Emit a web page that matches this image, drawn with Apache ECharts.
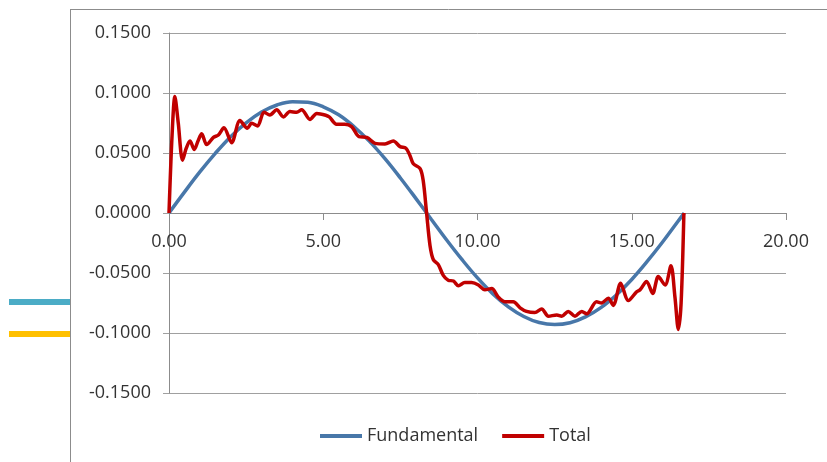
<!DOCTYPE html>
<html>
<head>
<meta charset="utf-8">
<script src="https://cdn.jsdelivr.net/npm/echarts@6/dist/echarts.min.js"></script>
<style>
  html, body { margin: 0; padding: 0; background: #ffffff; }
  #chart { width: 827px; height: 462px; }
</style>
</head>
<body>
<div id="chart"></div>
<script>
// Fundamental component: x positions and values
const fundX = [0, 0.5, 1.0, 1.5, 2.0, 2.5, 3.0, 3.5, 4.0, 4.5, 5.0, 5.5, 6.0, 6.5, 7.0, 7.5, 8.0,
  8.5, 9.0, 9.5, 10.0, 10.5, 11.0, 11.5, 12.0, 12.5, 13.0, 13.5, 14.0, 14.5, 15.0, 15.5, 16.0, 16.5, 16.7];
const fundY = [0, 0.0174, 0.0342, 0.0497, 0.0636, 0.0751, 0.0841, 0.0900, 0.0928, 0.0923, 0.0885, 0.0818,
  0.0719, 0.0597, 0.0453, 0.0292, 0.0122, -0.0052, -0.0225, -0.0389, -0.0541, -0.0674, -0.0782, -0.0862,
  -0.0913, -0.0930, -0.0915, -0.0866, -0.0789, -0.0683, -0.0554, -0.0404, -0.0242, -0.0069, 0];

// Total (sum of harmonics): x positions and values
const totalX = [0, 0.10, 0.19, 0.30, 0.44, 0.56, 0.68, 0.82, 0.94, 1.06, 1.22, 1.44, 1.60, 1.78, 2.03,
  2.30, 2.54, 2.68, 2.87, 3.08, 3.27, 3.49, 3.71, 3.92, 4.14, 4.30, 4.57, 4.79, 5.08, 5.20, 5.43, 5.70,
  5.92, 6.16, 6.41, 6.68, 7.00, 7.27, 7.49, 7.68, 7.81, 7.92, 8.14, 8.24, 8.35, 8.46, 8.57, 8.73, 8.89,
  9.05, 9.22, 9.38, 9.59, 9.81, 10.03, 10.24, 10.46, 10.67, 10.89, 11.16, 11.38, 11.59, 11.86, 12.08,
  12.30, 12.57, 12.73, 12.94, 13.16, 13.38, 13.54, 13.86, 14.02, 14.24, 14.40, 14.64, 14.89, 15.16,
  15.27, 15.48, 15.68, 15.86, 16.08, 16.27, 16.40, 16.51, 16.60, 16.69];
const totalY = [0, 0.065, 0.097, 0.075, 0.044, 0.054, 0.060, 0.053, 0.060, 0.066, 0.057, 0.063, 0.065,
  0.071, 0.0586, 0.077, 0.0706, 0.0747, 0.0725, 0.084, 0.0817, 0.086, 0.080, 0.0845, 0.084, 0.086, 0.078,
  0.083, 0.0815, 0.080, 0.074, 0.074, 0.072, 0.0636, 0.063, 0.058, 0.0575, 0.060, 0.0553, 0.054, 0.048,
  0.041, 0.037, 0.027, 0, -0.027, -0.039, -0.043, -0.052, -0.056, -0.0567, -0.0606, -0.058, -0.058,
  -0.060, -0.064, -0.063, -0.070, -0.074, -0.074, -0.079, -0.082, -0.083, -0.080, -0.086, -0.085,
  -0.086, -0.082, -0.086, -0.082, -0.084, -0.074, -0.075, -0.071, -0.077, -0.0586, -0.073, -0.0656,
  -0.064, -0.057, -0.067, -0.053, -0.060, -0.044, -0.070, -0.097, -0.075, 0];

const seriesNames = ['Fundamental', 'Total'];

const pairs = (xs, ys) => xs.map((x, i) => [x, ys[i]]);

const FONT = '"Open Sans", "Liberation Sans", sans-serif';
const TEXT = '#333333';
const GRID = '#a0a0a0';
const AXIS = '#8c8c8c';

// plot box in pixels; the x axis sits on the y = 0 line, halfway down
const PLOT_TOP = 33, PLOT_BOTTOM = 69, CHART_H = 462;
const plotH = CHART_H - PLOT_TOP - PLOT_BOTTOM;

const chart = echarts.init(document.getElementById('chart'), null, { renderer: 'canvas' });

chart.setOption({
  animation: false,
  backgroundColor: '#ffffff',
  grid: { left: 169, right: 41, top: PLOT_TOP, bottom: PLOT_BOTTOM, containLabel: false },
  legend: {
    left: 320,
    top: 427,
    padding: 0,
    itemWidth: 42,
    itemHeight: 4,
    itemGap: 24,
    icon: 'rect',
    textStyle: { fontFamily: FONT, fontSize: 18, color: TEXT },
    data: seriesNames
  },
  xAxis: {
    type: 'value',
    min: 0,
    max: 20,
    interval: 5,
    position: 'bottom',
    offset: -plotH / 2,
    axisLine: { onZero: false, lineStyle: { color: AXIS, width: 1 } },
    axisTick: { show: true, inside: false, length: 7, lineStyle: { color: AXIS } },
    axisLabel: {
      margin: 20,
      fontFamily: FONT, fontSize: 18, color: TEXT,
      formatter: v => v.toFixed(2)
    },
    splitLine: { show: false }
  },
  yAxis: {
    type: 'value',
    min: -0.15,
    max: 0.15,
    interval: 0.05,
    axisLine: { show: true, onZero: false, lineStyle: { color: AXIS, width: 1 } },
    axisTick: { show: true, inside: false, length: 6, lineStyle: { color: GRID } },
    axisLabel: {
      margin: 18,
      fontFamily: FONT, fontSize: 18, color: TEXT,
      formatter: v => v.toFixed(4)
    },
    splitLine: { show: true, lineStyle: { color: GRID, width: 1 } }
  },
  series: [
    {
      name: seriesNames[0],
      type: 'line',
      data: pairs(fundX, fundY),
      smooth: 0.4,
      showSymbol: false,
      symbol: 'none',
      lineStyle: { color: '#4877a9', width: 3.5 },
      itemStyle: { color: '#4877a9' },
      z: 2
    },
    {
      name: seriesNames[1],
      type: 'line',
      data: pairs(totalX, totalY),
      smooth: 0.3,
      showSymbol: false,
      symbol: 'none',
      lineStyle: { color: '#c00000', width: 3.5 },
      itemStyle: { color: '#c00000' },
      z: 3
    }
  ],
  graphic: [
    // surrounding frame edges
    { type: 'line', shape: { x1: 70, y1: 9.5, x2: 827, y2: 9.5 }, style: { stroke: '#8c8c8c', lineWidth: 1 } },
    { type: 'line', shape: { x1: 70.5, y1: 9, x2: 70.5, y2: 462 }, style: { stroke: '#8c8c8c', lineWidth: 1 } },
    // short coloured strokes at the left margin
    { type: 'rect', shape: { x: 9, y: 299, width: 61, height: 6 }, style: { fill: '#4bacc6' } },
    { type: 'rect', shape: { x: 9, y: 331, width: 61, height: 6 }, style: { fill: '#ffc000' } }
  ]
});
</script>
</body>
</html>
